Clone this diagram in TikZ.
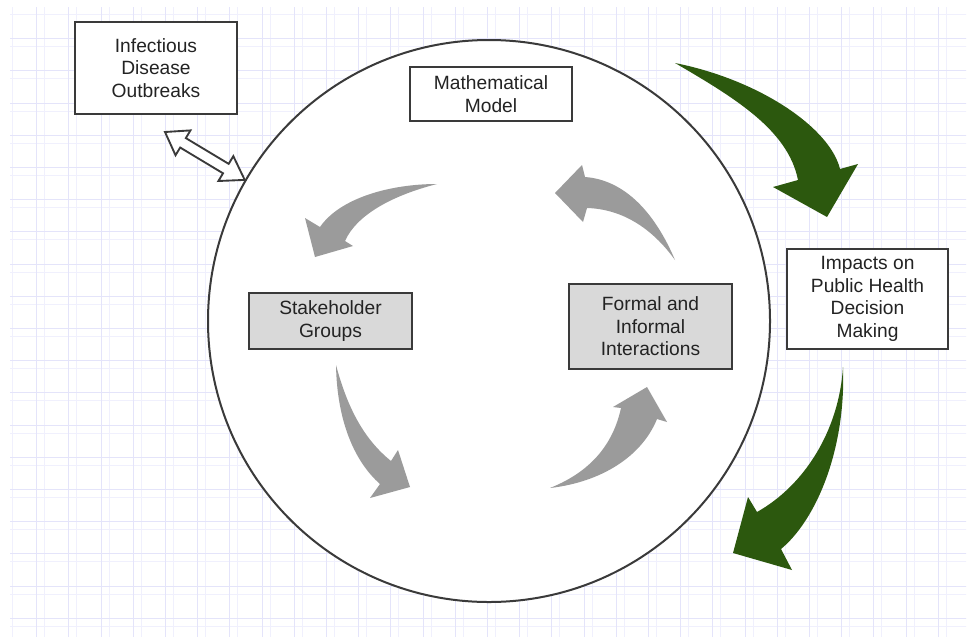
\documentclass[tikz,border=0pt]{standalone}
\usepackage{fontspec}
\setmainfont{Liberation Sans}
\definecolor{gridmaj}{RGB}{228,228,250}
\definecolor{gridmin}{RGB}{240,240,253}
\definecolor{dgreen}{RGB}{44,88,14}
\definecolor{agray}{RGB}{155,155,155}
\definecolor{bfill}{RGB}{217,217,217}
\definecolor{edgec}{RGB}{58,58,58}
\definecolor{txtc}{RGB}{35,35,35}
\begin{document}
\begin{tikzpicture}[x=0.75pt,y=-0.75pt,
  box/.style={draw=edgec, line width=1.5pt, fill=white, align=center, inner sep=0pt,
    font=\fontsize{14.4}{16.9}\selectfont, text=txtc},
  graybox/.style={box, fill=bfill},
  grayarrow/.style={fill=agray, draw=none},
  greenarrow/.style={fill=dgreen, draw=none},
  hollowarrow/.style={draw=edgec, line width=1.4pt, fill=white, line join=miter},
  gridminor/.style={draw=gridmin, line width=0.75pt},
  gridmajor/.style={draw=gridmaj, line width=0.75pt}]
\useasboundingbox (0,0) rectangle (969,636);
\fill[white] (0,0) rectangle (969,636);
% grid
\begin{scope}
  \clip (10,7) rectangle (966,636);
  \foreach \i in {0,...,60} {
    \draw[gridminor] ({12.55+32.2*\i},0) -- ({12.55+32.2*\i},640);
    \draw[gridminor] (0,{14.45+32.2*\i}) -- (970,{14.45+32.2*\i});
  }
  \foreach \i in {0,...,30} {
    \draw[gridmajor] ({4.5+32.2*\i},0) -- ({4.5+32.2*\i},640);
    \draw[gridmajor] (0,{6.4+32.2*\i}) -- (970,{6.4+32.2*\i});
  }
\end{scope}
% big circle
\node[circle, draw=edgec, line width=1.5pt, fill=white, minimum size={562*0.75pt}, inner sep=0pt] (circ) at (489,321) {};
% boxes
\node[box, minimum width={162*0.75pt}, minimum height={92*0.75pt}] (inf) at (156,68) {Infectious\\Disease\\Outbreaks};
\node[box, minimum width={162*0.75pt}, minimum height={54*0.75pt}] (math) at (491,94) {Mathematical\\Model};
\node[box, minimum width={161*0.75pt}, minimum height={100*0.75pt}] (imp) at (867.5,299) {Impacts on\\Public Health\\Decision\\Making};
\node[graybox, minimum width={163*0.75pt}, minimum height={56*0.75pt}] (stake) at (330.5,321) {Stakeholder\\Groups};
\node[graybox, minimum width={163*0.75pt}, minimum height={85*0.75pt}] (formal) at (650.5,326.5) {Formal and\\Informal\\Interactions};
% hollow double arrow between outbreaks box and circle
\begin{scope}[shift={(165,132)}, rotate=-31]
  \draw[hollowarrow] (0,0) -- (21,14.5) -- (21,5.5) -- (71,5.5) -- (71,14.5) -- (93,0)
    -- (71,-14.5) -- (71,-5.5) -- (21,-5.5) -- (21,-14.5) -- cycle;
\end{scope}
% gray cycle arrows
\fill[grayarrow] (437,184) .. controls (390,184) and (340,198) .. (320,227)
  -- (305,218) -- (315,257) -- (353,246) -- (345,241)
  .. controls (356,216) and (390,196) .. (437,184) -- cycle;
\fill[grayarrow] (675,260) .. controls (655,213) and (625,180) .. (585,177)
  -- (582,165) -- (555,193) -- (583,222) -- (587,208)
  .. controls (622,209) and (652,228) .. (675,260) -- cycle;
\fill[grayarrow] (336,365) .. controls (337,422) and (355,462) .. (380,484)
  -- (370,498) -- (410,487) -- (398,450) -- (391,461)
  .. controls (365,440) and (348,410) .. (336,365) -- cycle;
\fill[grayarrow] (550,488) .. controls (595,470) and (614,440) .. (621,408)
  -- (613,407) -- (647,387) -- (667,422) -- (657,419)
  .. controls (642,456) and (602,482) .. (550,488) -- cycle;
% green outer arrows
\fill[greenarrow] (675,63) .. controls (760,80) and (830,128) .. (840,169)
  -- (858,164) -- (827,217) -- (773,187) -- (798,180)
  .. controls (788,130) and (735,98) .. (675,63) -- cycle;
\fill[greenarrow] (843,367) .. controls (846,450) and (816,520) .. (781,549)
  -- (792,570) -- (733,553) -- (748,497) -- (757,512)
  .. controls (805,485) and (839,430) .. (843,367) -- cycle;
\end{tikzpicture}
\end{document}
